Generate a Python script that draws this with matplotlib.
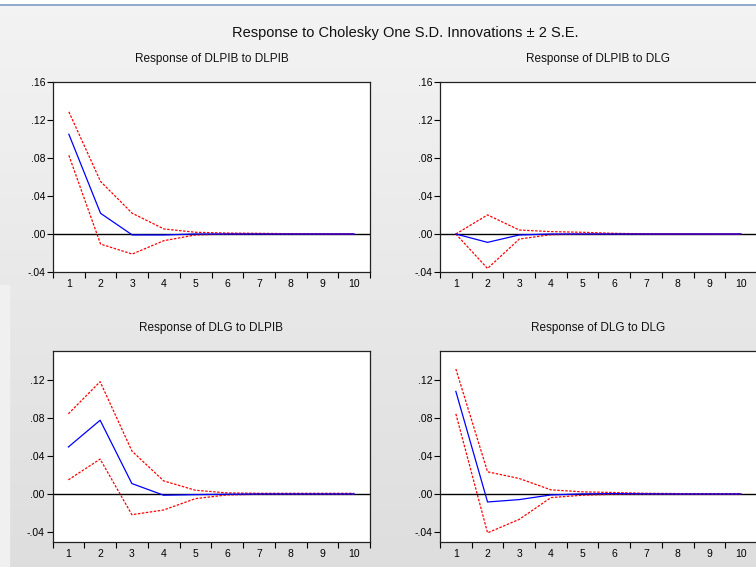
import numpy as np
import matplotlib
matplotlib.use("Agg")
import matplotlib.pyplot as plt
from matplotlib.ticker import FuncFormatter

plt.rcParams['font.family'] = ['Liberation Sans', 'DejaVu Sans']

periods = list(range(1, 11))

# response of DLPIB to DLPIB
pib_pib = [0.105, 0.0218, -0.001, -0.001, 0.0, 0.0, 0.0, 0.0, 0.0, 0.0]
pib_pib_hi = [0.1286, 0.0553, 0.0218, 0.0053, 0.0018, 0.001, 0.0007, 0.0003, 0.0002, 0.0001]
pib_pib_lo = [0.0828, -0.0106, -0.0211, -0.007, -0.001, 0.0, 0.0, 0.0, 0.0, 0.0]

# response of DLPIB to DLG
pib_dlg = [0.0, -0.0088, -0.001, 0.0, 0.0, 0.0, 0.0, 0.0, 0.0, 0.0]
pib_dlg_hi = [0.0, 0.0201, 0.0042, 0.0025, 0.0018, 0.0007, 0.0002, 0.0001, 0.0, 0.0]
pib_dlg_lo = [0.0, -0.0363, -0.0053, -0.0007, 0.0, 0.0, 0.0, 0.0, 0.0, 0.0]

# response of DLG to DLPIB
dlg_pib = [0.0495, 0.0775, 0.0112, -0.001, -0.0004, 0.0, 0.0003, 0.0003, 0.0003, 0.0003]
dlg_pib_hi = [0.0842, 0.1179, 0.0453, 0.014, 0.0042, 0.0014, 0.001, 0.001, 0.001, 0.001]
dlg_pib_lo = [0.0151, 0.0368, -0.0214, -0.0165, -0.0046, -0.0007, 0.0, 0.0, 0.0, 0.0]

# response of DLG to DLG
dlg_dlg = [0.1077, -0.0081, -0.0056, -0.0007, 0.0004, 0.0007, 0.0004, 0.0003, 0.0003, 0.0003]
dlg_dlg_hi = [0.1312, 0.0235, 0.0165, 0.0046, 0.0025, 0.0018, 0.001, 0.0007, 0.0007, 0.0007]
dlg_dlg_lo = [0.0842, -0.0404, -0.0263, -0.0035, -0.001, 0.0, 0.0, 0.0, 0.0, 0.0]

panels = [
    ("Response of DLPIB to DLPIB", pib_pib, pib_pib_hi, pib_pib_lo, (-0.04, 0.16), [53, 82, 370, 272]),
    ("Response of DLPIB to DLG", pib_dlg, pib_dlg_hi, pib_dlg_lo, (-0.04, 0.16), [440, 82, 757, 272]),
    ("Response of DLG to DLPIB", dlg_pib, dlg_pib_hi, dlg_pib_lo, (-0.05, 0.15), [52.5, 351, 370, 542]),
    ("Response of DLG to DLG", dlg_dlg, dlg_dlg_hi, dlg_dlg_lo, (-0.05, 0.15), [440, 351, 757, 542]),
]

W, H = 756, 567
fig = plt.figure(figsize=(W / 100, H / 100), dpi=100)

# window background: light gray gradient, thin blue border at top
bg = fig.add_axes([0, 0, 1, 1], zorder=-5)
grad = np.linspace(0.955, 0.87, 256).reshape(-1, 1)
bg.imshow(np.dstack([grad, grad, grad]), aspect='auto', extent=[0, 1, 0, 1])
bg.axvspan(0, 9 / W, ymin=0, ymax=1 - 285 / H, color='#f0f0f0')
bg.axhspan(1 - 4 / H, 1, color='white')
bg.axhline(1 - 4.5 / H, color='#7f9bc4', lw=1.2)
bg.set_xlim(0, 1)
bg.set_ylim(0, 1)
bg.axis('off')

fig.text(405 / W, 1 - 33 / H, "Response to Cholesky One S.D. Innovations \u00b1 2 S.E.",
         ha='center', va='center', fontsize=10.5, color='#111111')

fmt = FuncFormatter(lambda v, p: ("%.2f" % v).replace("0.", ".") if abs(v) > 1e-9 else ".00")

for title, resp, hi, lo, ylim, box in panels:
    l, t, r, b = box
    ax = fig.add_axes([l / W, 1 - b / H, (r - l) / W, (b - t) / H])
    ax.set_facecolor('white')
    ax.axhline(0, color='black', lw=1.0, zorder=1)
    ax.plot(periods, hi, color='red', lw=0.9, ls=(0, (2, 1.2)), zorder=2)
    ax.plot(periods, lo, color='red', lw=0.9, ls=(0, (2, 1.2)), zorder=2)
    ax.plot(periods, resp, color='blue', lw=0.9, zorder=3)
    ax.set_xlim(0.5, 10.5)
    ax.set_ylim(*ylim)
    ax.set_yticks([-0.04, 0.0, 0.04, 0.08, 0.12, 0.16] if ylim[1] > 0.155 else [-0.04, 0.0, 0.04, 0.08, 0.12])
    ax.yaxis.set_major_formatter(fmt)
    ax.set_xticks(np.arange(0.5, 11, 1))
    ax.set_xticklabels([])
    ax.set_xticks(periods, minor=True)
    ax.set_xticklabels([str(p) for p in periods], minor=True)
    ax.tick_params(axis='x', which='major', direction='out', length=4, width=0.8)
    ax.tick_params(axis='x', which='minor', length=0, pad=5, labelsize=7.5)
    ax.tick_params(axis='y', direction='out', length=4, width=0.8, pad=1.5, labelsize=7.5)
    for s in ax.spines.values():
        s.set_linewidth(0.9)
        s.set_color('#222222')
    fig.text((l + r) / 2 / W if r < 700 else 598 / W, 1 - (t - 23) / H, title,
             ha='center', va='center', fontsize=8.5, color='#111111')

fig.savefig("out.png", dpi=100)
